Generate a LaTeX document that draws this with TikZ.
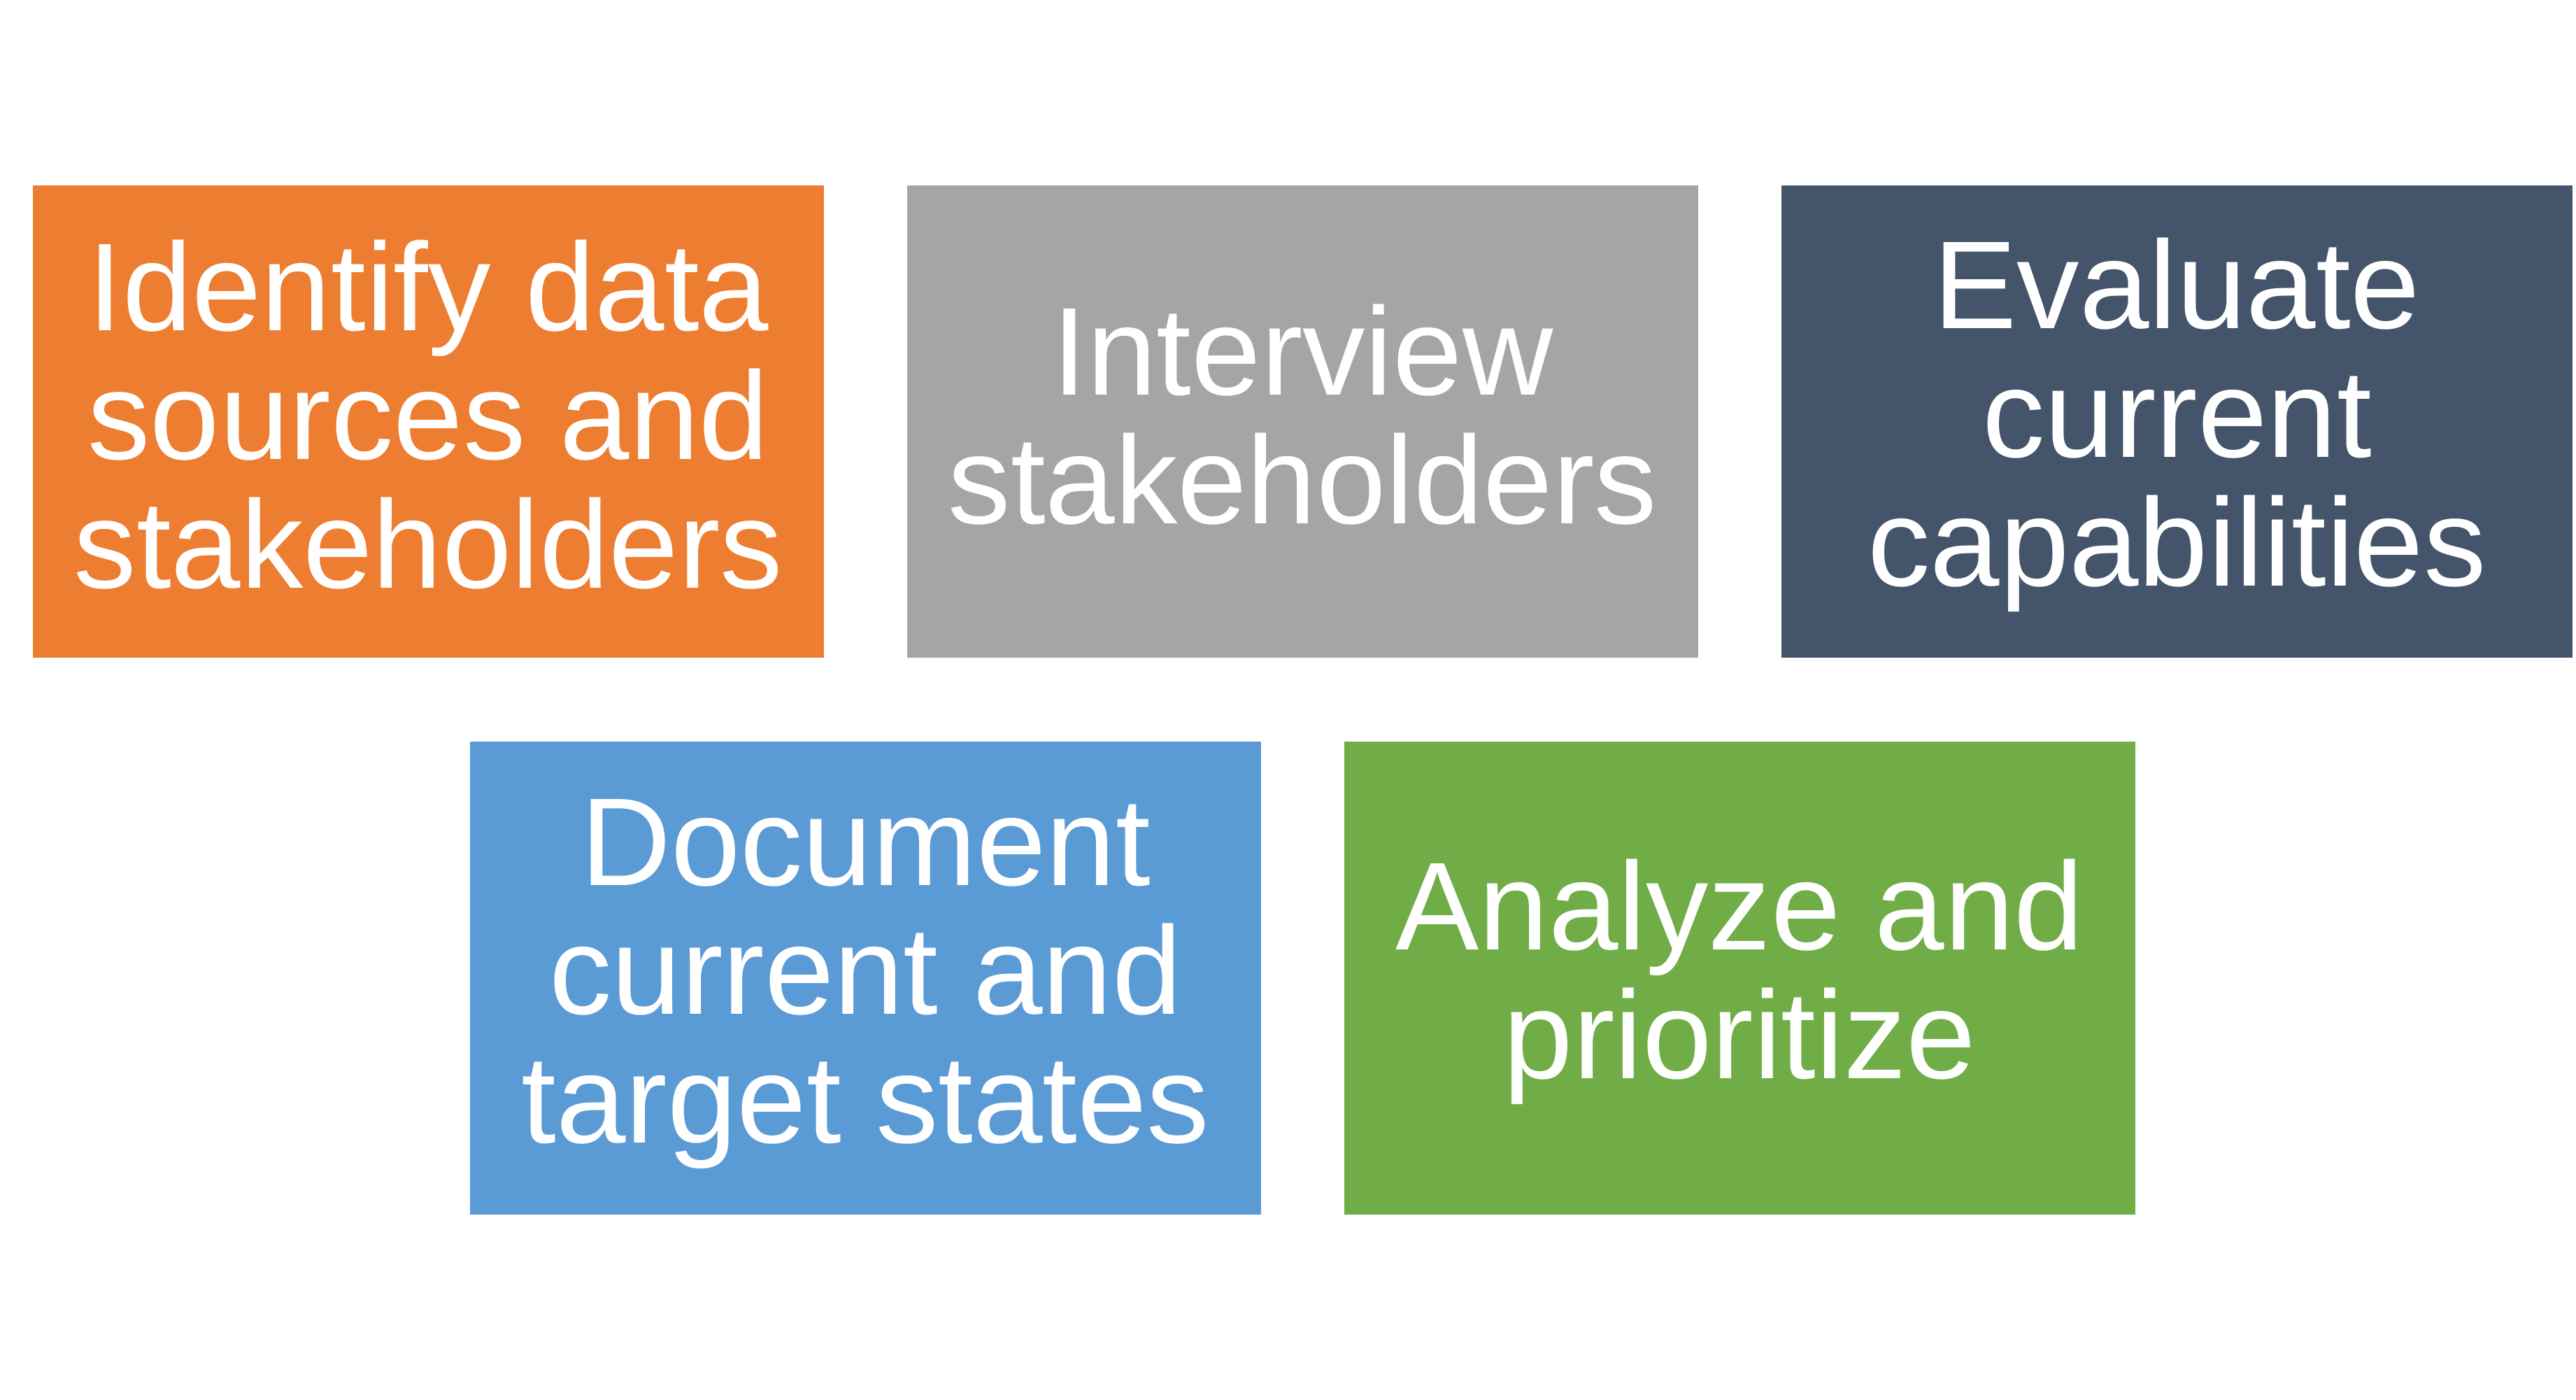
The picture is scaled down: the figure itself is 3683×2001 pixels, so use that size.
\documentclass[tikz,border=0pt]{standalone}
\usepackage{fontspec}
\setmainfont{Liberation Sans}
\definecolor{cOrange}{HTML}{ED7D31}
\definecolor{cGray}{HTML}{A5A5A5}
\definecolor{cSlate}{HTML}{44546A}
\definecolor{cBlue}{HTML}{5B9BD5}
\definecolor{cGreen}{HTML}{70AD47}
\newcommand\sR{\rule[-6.4pt]{0pt}{34.4pt}}
\tikzset{
  stepbox/.style={rectangle, inner sep=0pt, minimum width=226.2pt, minimum height=135.1pt,
    text=white, align=center, font={\fontsize{35.76}{36.8}\selectfont}}
}
\begin{document}
\begin{tikzpicture}[x=0.2pt,y=-0.2pt]
\useasboundingbox (0,0) rectangle (3683,2001);
\node[stepbox, fill=cOrange] (b1) at (612.5,602.5) {\sR Identify data\\\sR sources and\\\sR stakeholders};
\node[stepbox, fill=cGray] (b2) at (1862.5,602.5) {\sR Interview\\\sR stakeholders};
\node[stepbox, fill=cSlate] (b3) at (3112.5,602.5) {\sR Evaluate\\\sR current\\\sR capabilities};
\node[stepbox, fill=cBlue] (b4) at (1237.5,1398) {\sR Document\\\sR current and\\\sR target states};
\node[stepbox, fill=cGreen] (b5) at (2487.5,1398) {\sR Analyze and\\\sR prioritize};
\end{tikzpicture}
\end{document}
